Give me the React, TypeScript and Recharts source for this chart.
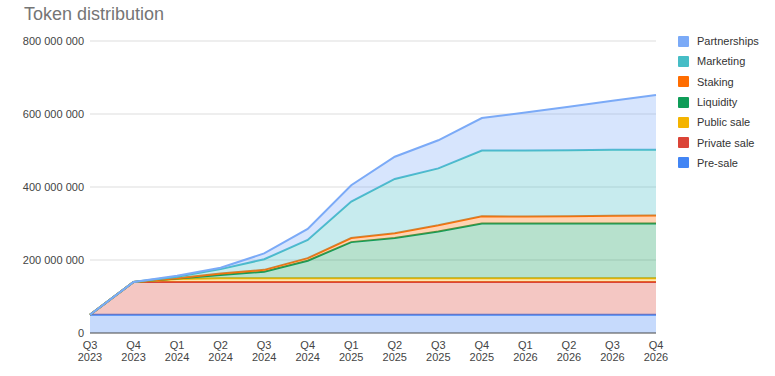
import React from 'react';
import { AreaChart, Area, XAxis, YAxis, CartesianGrid } from 'recharts';

// quarters on the x axis
const quarters = [
  'Q3 2023', 'Q4 2023', 'Q1 2024', 'Q2 2024', 'Q3 2024', 'Q4 2024', 'Q1 2025',
  'Q2 2025', 'Q3 2025', 'Q4 2025', 'Q1 2026', 'Q2 2026', 'Q3 2026', 'Q4 2026',
];

// tokens released per tranche, in millions (stacked)
const preSale = [50, 50, 50, 50, 50, 50, 50, 50, 50, 50, 50, 50, 50, 50];
const privateSale = [0, 90, 90, 90, 90, 90, 90, 90, 90, 90, 90, 90, 90, 90];
const publicSale = [0, 0, 8, 10, 10, 10, 10, 10, 10, 10, 10, 10, 10, 10];
const liquidity = [0, 0, 1, 9, 18, 48, 99, 110, 128, 150, 150, 150, 150, 150];
const staking = [0, 0, 1, 4, 5, 7, 11, 13, 17, 20, 19, 20, 21, 22];
const marketing = [0, 0, 4, 12, 29, 50, 100, 149, 156, 180, 181, 181, 181, 180];
const partnerships = [0, 0, 3, 4, 16, 30, 45, 61, 77, 89, 104, 119, 134, 150];

const yTicks = [0, 200000000, 400000000, 600000000, 800000000];

const SERIES = [
  { key: 'preSale', name: 'Pre-sale', values: preSale, color: '#4285f4' },
  { key: 'privateSale', name: 'Private sale', values: privateSale, color: '#db4437' },
  { key: 'publicSale', name: 'Public sale', values: publicSale, color: '#f4b400' },
  { key: 'liquidity', name: 'Liquidity', values: liquidity, color: '#0f9d58' },
  { key: 'staking', name: 'Staking', values: staking, color: '#ff6d01' },
  { key: 'marketing', name: 'Marketing', values: marketing, color: '#46bdc6' },
  { key: 'partnerships', name: 'Partnerships', values: partnerships, color: '#7baaf7' },
];

const data = quarters.map((q, i) => {
  const row: any = { quarter: q };
  SERIES.forEach(s => { row[s.key] = s.values[i] * 1000000; });
  return row;
});

const fmt = (v: number) => String(v).replace(/\B(?=(\d{3})+(?!\d))/g, ' ');

const QuarterTick = ({ x, y, payload }: any) => {
  const [q, yr] = String(payload.value).split(' ');
  return (
    <text x={x} y={y} textAnchor="middle" fill="#444" fontSize={11}>
      <tspan x={x} dy={16}>{q}</tspan>
      <tspan x={x} dy={11.5}>{yr}</tspan>
    </text>
  );
};

const App: React.FC = () => {
  return (
    <div style={{ position: 'absolute', left: 0, top: 0, width: 775, height: 376, background: '#fff', fontFamily: 'Arial, "Liberation Sans", sans-serif' }}>
      <div style={{ position: 'absolute', left: 24, top: 5, fontSize: 18, lineHeight: '18px', color: '#757575' }}>
        Token distribution
      </div>
      <AreaChart width={775} height={376} data={data} margin={{ top: 41, right: 119, bottom: 0, left: 0 }}>
        <CartesianGrid vertical={false} stroke="#dddddd" />
        <XAxis
          dataKey="quarter"
          tick={<QuarterTick />}
          tickLine={false}
          tickSize={0}
          tickMargin={0}
          axisLine={{ stroke: '#555', strokeWidth: 1 }}
          interval={0}
          height={43}
        />
        <YAxis
          width={90}
          domain={[0, 800000000]}
          ticks={yTicks}
          tickFormatter={fmt}
          axisLine={false}
          tickLine={false}
          tickSize={0}
          tickMargin={6}
          tick={{ fill: '#444', fontSize: 11 }}
        />
        {SERIES.map(s => (
          <Area
            key={s.key}
            type="linear"
            dataKey={s.key}
            name={s.name}
            stackId="1"
            stroke={s.color}
            strokeWidth={2}
            fill={s.color}
            fillOpacity={0.3}
            dot={false}
            activeDot={false}
            isAnimationActive={false}
          />
        ))}
      </AreaChart>
      <div style={{ position: 'absolute', left: 678, top: 31 }}>
        {[...SERIES].reverse().map(s => (
          <div key={s.key} style={{ display: 'flex', alignItems: 'center', height: 20.3 }}>
            <span style={{ width: 11, height: 11, background: s.color, borderRadius: 1, marginRight: 8 }} />
            <span style={{ fontSize: 11, color: '#333' }}>{s.name}</span>
          </div>
        ))}
      </div>
    </div>
  );
};

export default App;
